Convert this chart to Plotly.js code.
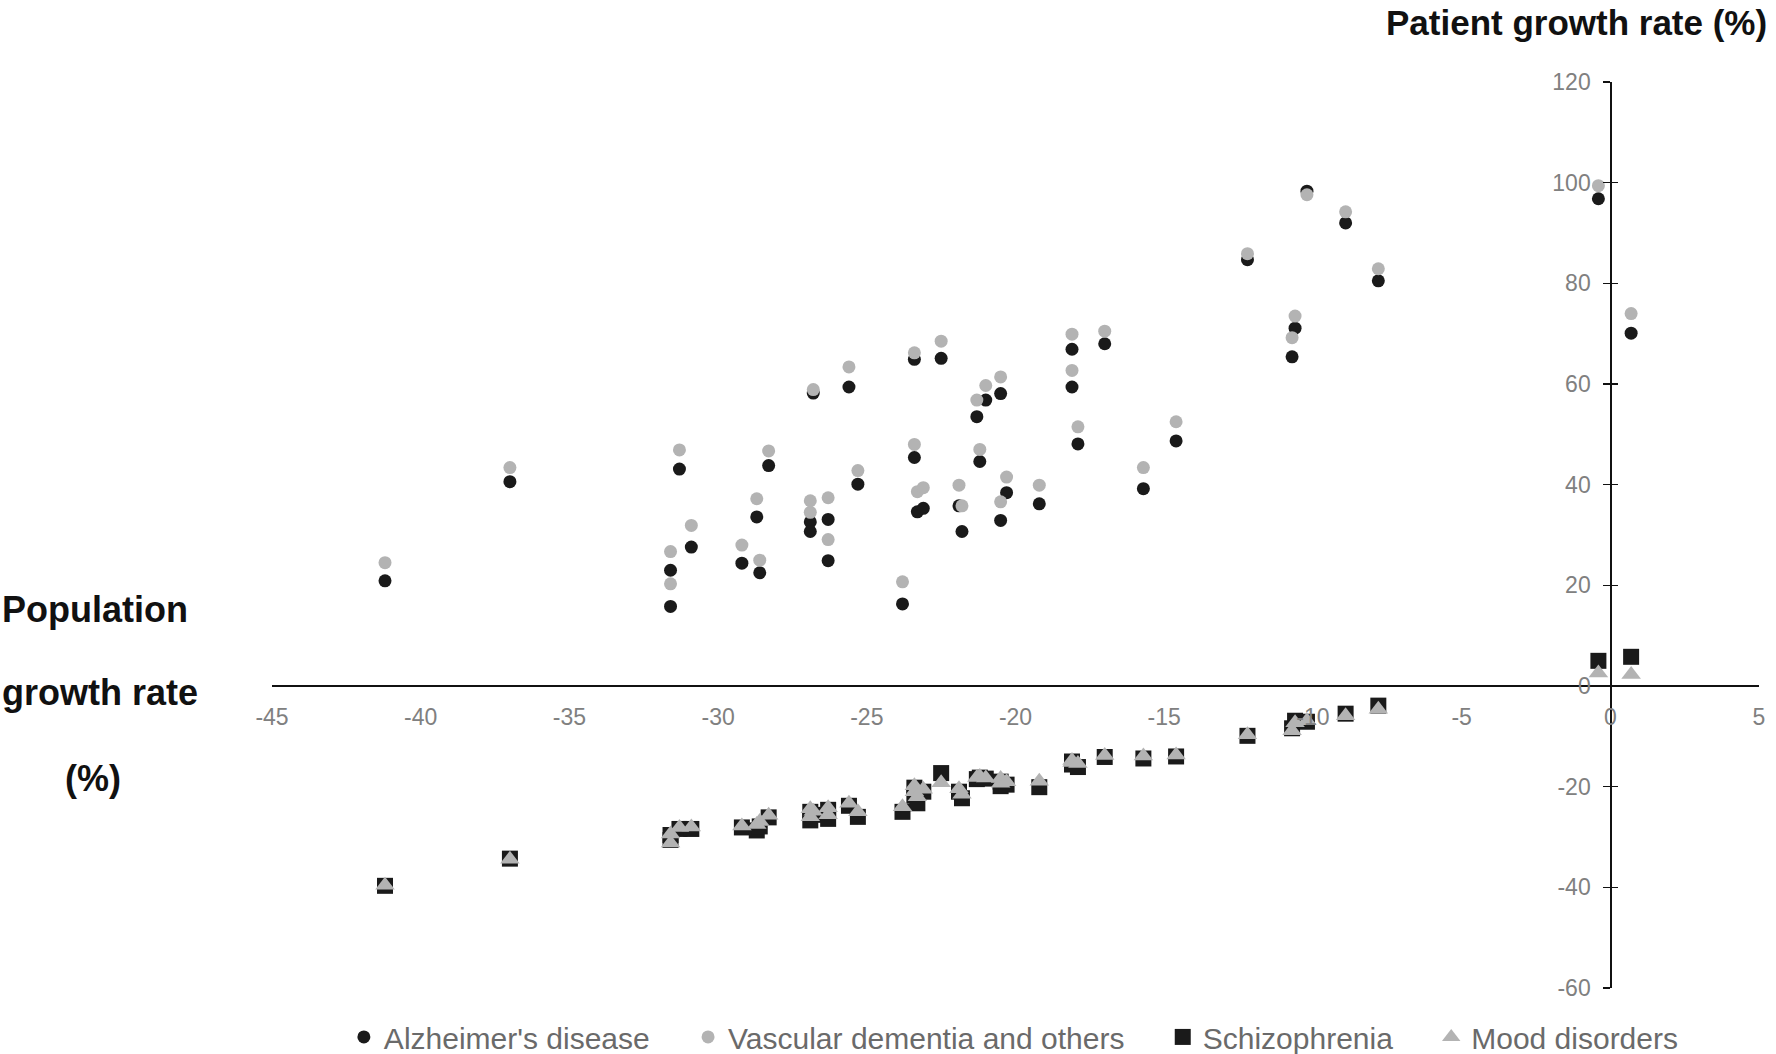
<!DOCTYPE html>
<html>
<head>
<meta charset="utf-8">
<script src="https://cdn.plot.ly/plotly-3.0.1.min.js"></script>
<style>
  html, body { margin: 0; padding: 0; background: #fff; }
  #chart { width: 1776px; height: 1054px; }
</style>
</head>
<body>
<div id="chart"></div>
<script>
// population growth rate (%) per region, x of every series
const popGrowth = [
  -41.2, -37.0, -31.3, -31.6, -31.6, -30.9, -29.2, -28.7, -28.6, -28.3,
  -26.9, -26.9, -26.8, -26.3, -26.3, -25.6, -25.3, -23.8, -23.4, -23.4,
  -23.3, -23.1, -22.5, -21.9, -21.8, -21.3, -21.2, -21.0, -20.5, -20.5,
  -20.3, -19.2, -18.1, -18.1, -17.9, -17.0, -15.7, -14.6, -12.2, -10.7,
  -10.6, -10.2, -8.9, -7.8, -0.4, 0.7
];

// patient growth rate (%)
const alzheimers = [
  20.9, 40.6, 43.1, 23.0, 15.8, 27.6, 24.4, 33.6, 22.5, 43.8,
  32.6, 30.7, 58.2, 33.1, 24.9, 59.4, 40.1, 16.3, 64.9, 45.4,
  34.6, 35.3, 65.1, 35.8, 30.7, 53.5, 44.6, 56.8, 58.1, 32.9,
  38.4, 36.2, 66.9, 59.4, 48.1, 68.0, 39.2, 48.7, 84.7, 65.4,
  71.1, 98.3, 92.0, 80.5, 96.8, 70.1
];
const vascular = [
  24.5, 43.4, 46.9, 26.7, 20.3, 31.9, 28.0, 37.2, 25.0, 46.7,
  36.8, 34.5, 58.9, 37.4, 29.1, 63.4, 42.8, 20.7, 66.2, 48.0,
  38.6, 39.4, 68.5, 39.9, 35.8, 56.8, 47.0, 59.7, 61.4, 36.6,
  41.5, 39.9, 69.9, 62.7, 51.5, 70.5, 43.4, 52.5, 85.9, 69.2,
  73.5, 97.6, 94.2, 82.9, 99.4, 74.0
];
const schizophrenia = [
  -39.7, -34.3, -28.4, -29.6, -30.6, -28.4, -28.1, -28.7, -27.9, -26.1,
  -25.0, -26.7, -25.6, -24.6, -26.4, -23.8, -26.0, -25.0, -20.2, -21.8,
  -23.3, -21.0, -17.3, -21.0, -22.3, -18.5, -18.2, -18.4, -19.0, -19.9,
  -19.6, -20.1, -15.0, -15.6, -16.1, -14.1, -14.4, -14.0, -9.9, -8.4,
  -6.9, -7.1, -5.5, -3.9, 5.0, 5.8
];
const mood = [
  -39.6, -34.4, -28.1, -29.4, -31.2, -28.0, -27.8, -27.5, -26.9, -25.7,
  -24.4, -26.0, -24.9, -24.2, -25.6, -23.3, -25.0, -24.0, -19.8, -21.0,
  -22.0, -20.5, -19.2, -20.4, -21.5, -18.2, -18.0, -18.3, -18.4, -19.3,
  -19.0, -18.9, -14.8, -15.2, -15.4, -13.8, -13.9, -13.7, -9.7, -8.9,
  -7.3, -6.9, -5.9, -4.6, 2.6, 2.3
];

const seriesNames = ["Alzheimer's disease", "Vascular dementia and others", "Schizophrenia", "Mood disorders"];

// tick labels use a plain hyphen like the original, not the unicode minus
const xTicks = [-45, -40, -35, -30, -25, -20, -15, -10, -5, 0, 5];
const xTickLabels = ["-45", "-40", "-35", "-30", "-25", "-20", "-15", "-10", "-5", "0", "5"];
const yTicks = [-60, -40, -20, 0, 20, 40, 60, 80, 100, 120];
const yTickLabels = ["-60", "-40", "-20", "0", "20", "40", "60", "80", "100", "120"];

const BLACK = "#1a1a1a";
const GRAY = "#b3b3b3";
const PAD = "\u00a0\u00a0\u00a0\u00a0"; // extra room between legend entries

function scatter(name, y, symbol, color, size) {
  return {
    name: name + PAD,
    type: "scatter",
    mode: "markers",
    x: popGrowth,
    y: y,
    hoverinfo: "none",
    marker: { symbol: symbol, color: color, size: size, line: { width: 0 } },
  };
}

let data = [
  scatter(seriesNames[0], alzheimers, "circle", BLACK, 13),
  scatter(seriesNames[1], vascular, "circle", GRAY, 13),
  scatter(seriesNames[2], schizophrenia, "square", BLACK, 16),
  scatter(seriesNames[3], mood, "triangle-up", GRAY, 17),
];

const tickFont = { family: "Liberation Sans, Arial, sans-serif", size: 23, color: "#808080" };
const labelFont = { family: "Liberation Sans, Arial, sans-serif", size: 36, color: "#111111", weight: "bold" };

let layout = {
  width: 1776,
  height: 1054,
  margin: { l: 272, r: 17, t: 82, b: 66, autoexpand: false },
  paper_bgcolor: "#ffffff",
  plot_bgcolor: "#ffffff",
  showlegend: true,
  legend: {
    orientation: "h",
    x: 0.51,
    xanchor: "center",
    y: -0.054,
    yanchor: "middle",
    font: { family: "Liberation Sans, Arial, sans-serif", size: 30, color: "#6a6a6a" },
    itemwidth: 30,
    tracegroupgap: 0,
  },
  xaxis: {
    range: [-45, 5],
    tickmode: "array",
    tickvals: xTicks,
    ticktext: xTickLabels,
    anchor: "free",
    position: 60 / 180,
    showline: true,
    linecolor: "#111111",
    linewidth: 2,
    showgrid: false,
    zeroline: false,
    ticks: "",
    ticklabelstandoff: 10,
    tickfont: tickFont,
  },
  yaxis: {
    range: [-60, 120],
    tickmode: "array",
    tickvals: yTicks,
    ticktext: yTickLabels,
    anchor: "free",
    position: 45 / 50,
    showline: true,
    linecolor: "#111111",
    linewidth: 1.5,
    showgrid: false,
    zeroline: false,
    ticks: "outside",
    ticklen: 7,
    tickwidth: 1.5,
    tickcolor: "#111111",
    ticklabelstandoff: 8,
    tickfont: tickFont,
  },
  // second copy of y axis only to make the tick marks cross the line
  yaxis2: {
    matches: "y",
    overlaying: "y",
    anchor: "free",
    position: 45 / 50,
    range: [-60, 120],
    tickmode: "array",
    tickvals: yTicks,
    showline: false,
    showgrid: false,
    zeroline: false,
    ticks: "inside",
    ticklen: 7,
    tickwidth: 1.5,
    tickcolor: "#111111",
    showticklabels: false,
  },
  annotations: [
    {
      text: "Patient growth rate (%)",
      xref: "paper", yref: "paper",
      x: 1.0067, y: 1.0662,
      xanchor: "right", yanchor: "middle",
      showarrow: false,
      font: Object.assign({}, labelFont, { size: 35 }),
    },
    {
      text: "Population",
      xref: "paper", yref: "paper",
      x: -0.1829, y: 0.4183,
      xanchor: "left", yanchor: "middle",
      showarrow: false,
      font: labelFont,
    },
    {
      text: "growth rate",
      xref: "paper", yref: "paper",
      x: -0.1829, y: 0.3267,
      xanchor: "left", yanchor: "middle",
      showarrow: false,
      font: labelFont,
    },
    {
      text: "(%)",
      xref: "paper", yref: "paper",
      x: -0.1203, y: 0.2307,
      xanchor: "center", yanchor: "middle",
      showarrow: false,
      font: labelFont,
    },
  ],
};

// dummy trace so yaxis2 gets drawn
data.push({ type: "scatter", x: [], y: [], yaxis: "y2", showlegend: false, hoverinfo: "none" });

Plotly.newPlot("chart", data, layout, { displayModeBar: false, staticPlot: true });
</script>
</body>
</html>
